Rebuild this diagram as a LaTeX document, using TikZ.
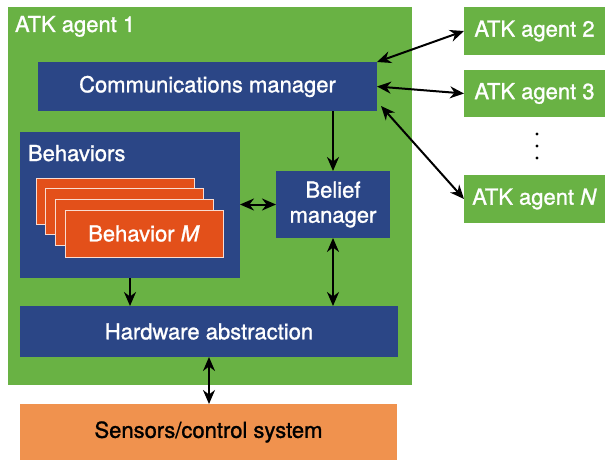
\documentclass[tikz,border=0pt]{standalone}
\usepackage{fontspec}
\setmainfont{TeX Gyre Heros}[FakeBold=1.2]
\usetikzlibrary{positioning,arrows.meta}

\definecolor{atkgreen}{HTML}{69B244}
\definecolor{atknavy}{HTML}{2B4686}
\definecolor{atkorange}{HTML}{E3501A}
\definecolor{atksensor}{HTML}{F0924E}

\begin{document}
\begin{tikzpicture}[
  x=1pt,y=-1pt,
  every node/.style={inner sep=0pt,outer sep=0pt,font=\fontsize{22}{25}\selectfont},
  agentbox/.style={fill=atkgreen,rectangle,text=white,anchor=north west},
  modulebox/.style={fill=atknavy,rectangle,text=white,anchor=north west,align=center},
  behbox/.style={fill=atkorange,draw=white!80!atkorange,line width=0.9pt,rectangle,
    text=white,anchor=north west,minimum width=158pt,minimum height=46pt},
  sensorbox/.style={fill=atksensor,rectangle,text=black,anchor=north west},
  arr/.style={draw,line width=2pt,-{Stealth[length=14pt,width=12pt,inset=4.5pt]}},
  arrboth/.style={draw,line width=2pt,{Stealth[length=14pt,width=12pt,inset=4.5pt]}-{Stealth[length=14pt,width=12pt,inset=4.5pt]}},
]
  \useasboundingbox (0,0) rectangle (605,460);

  % Agent 1 frame
  \node[agentbox,minimum width=404pt,minimum height=378pt] (agent1) at (8,7) {};
  \node[anchor=base west,text=white] (agent1label) at (15,32) {ATK agent 1};

  % Other agents
  \node[agentbox,minimum width=141pt,minimum height=48pt] (agent2) at (464,7) {ATK agent 2};
  \node[agentbox,minimum width=141pt,minimum height=47pt] (agent3) at (464,70) {ATK agent 3};
  \node[agentbox,minimum width=141pt,minimum height=48pt] (agentN) at (464,175) {ATK agent \textit{N}};
  \foreach \yy in {134,146,158} \fill (537,\yy) circle (1.7pt);

  % Modules
  \node[modulebox,minimum width=339pt,minimum height=49pt] (comms) at (38,62) {Communications manager};
  \node[modulebox,minimum width=220pt,minimum height=146pt] (behaviors) at (20,132) {};
  \node[anchor=base west,text=white] (behaviorslabel) at (28,161) {Behaviors};
  \node[modulebox,minimum width=114pt,minimum height=67pt] (belief) at (276,171) {Belief\\manager};
  \node[modulebox,minimum width=378pt,minimum height=51pt] (hw) at (20,306) {Hardware abstraction};

  % Behavior stack
  \node[behbox] (beh1) at (36,178) {};
  \node[behbox] (beh2) at (45.5,188.5) {};
  \node[behbox] (beh3) at (55,199) {};
  \node[behbox,minimum height=47pt] (behM) at (65,210) {Behavior \textit{M}};

  % Sensors
  \node[sensorbox,minimum width=377pt,minimum height=56pt] (sensors) at (20,404) {Sensors/control system};

  % Edges: inside agent 1
  \path[arr] (comms.south -| belief.north) -- (belief.north);
  \path[arrboth] (behaviors.east |- belief) -- (belief.west);
  \path[arr] (behaviors.south) -- (behaviors.south |- hw.north);
  \path[arrboth] (belief.south) -- (belief.south |- hw.north);
  \path[arrboth] (hw.south) -- (hw.south |- sensors.north);

  % Edges: to other agents
  \path[arrboth] (comms.north east) -- (agent2.west);
  \path[arrboth] (comms.east) -- (agent3.west);
  \path[arrboth] ([xshift=4pt,yshift=5pt]comms.south east) -- (agentN.west);
\end{tikzpicture}
\end{document}
